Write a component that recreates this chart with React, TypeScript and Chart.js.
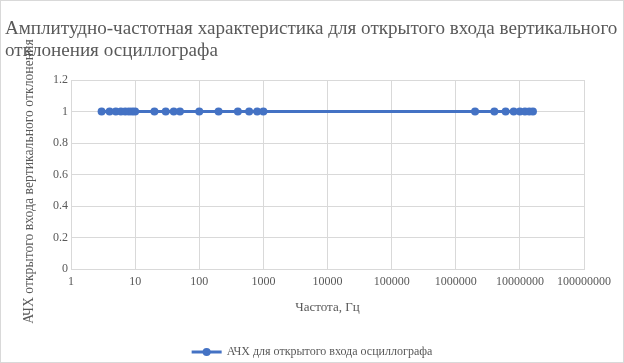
import React, { useEffect, useRef } from "react";
import { Chart, registerables } from "chart.js";

Chart.register(...registerables);

const chartTitle = [
  "Амплитудно-частотная характеристика для открытого входа вертикального",
  "отклонения осциллографа",
];
const seriesName = "АЧХ для открытого входа осциллографа";
const xAxisTitle = "Частота, Гц";
const yAxisTitle = "АЧХ открытого входа вертикального отклонения";

const frequencies = [
  3, 4, 5, 6, 7, 8, 9, 10, 20, 30, 40, 50, 100, 200, 400, 600, 800, 1000,
  2000000, 4000000, 6000000, 8000000, 10000000, 12000000, 14000000, 16000000,
];
const amplitudes = [
  1, 1, 1, 1, 1, 1, 1, 1, 1, 1, 1, 1, 1, 1, 1, 1, 1, 1, 1, 1, 1, 1, 1, 1, 1, 1,
];
const xTicks = [1, 10, 100, 1000, 10000, 100000, 1000000, 10000000, 100000000];
const yTicks = [0, 0.2, 0.4, 0.6, 0.8, 1, 1.2];

const BLUE = "#4472C4";
const TEXT = "#595959";
const GRID = "#d9d9d9";
const FONT = "'Liberation Serif', 'DejaVu Serif', serif";

const decor = {
  id: "decor",
  beforeDraw(chart: any) {
    const { ctx, width, height } = chart;
    ctx.save();
    ctx.fillStyle = "#ffffff";
    ctx.fillRect(0, 0, width, height);
    ctx.strokeStyle = GRID;
    ctx.lineWidth = 1;
    ctx.strokeRect(0.5, 0.5, width - 1, height - 1);
    ctx.restore();
  },
  afterDraw(chart: any) {
    const { ctx, chartArea } = chart;
    ctx.save();
    ctx.fillStyle = TEXT;
    // y axis title
    ctx.save();
    ctx.translate(29, (chartArea.top + chartArea.bottom) / 2 + 7);
    ctx.rotate(-Math.PI / 2);
    ctx.font = `13.7px ${FONT}`;
    ctx.textAlign = "center";
    ctx.textBaseline = "middle";
    ctx.fillText(yAxisTitle, 0, 0);
    ctx.restore();
    // chart title
    ctx.font = `19.1px ${FONT}`;
    ctx.textAlign = "left";
    ctx.textBaseline = "middle";
    chartTitle.forEach((line, i) => ctx.fillText(line, 5, 29 + i * 22));
    // legend
    ctx.font = `12px ${FONT}`;
    const textW = ctx.measureText(seriesName).width;
    const iconW = 30;
    const gap = 5;
    const total = iconW + gap + textW;
    const x0 = chart.width / 2 - total / 2;
    const y = 352;
    ctx.strokeStyle = BLUE;
    ctx.lineWidth = 3;
    ctx.beginPath();
    ctx.moveTo(x0, y);
    ctx.lineTo(x0 + iconW, y);
    ctx.stroke();
    ctx.fillStyle = BLUE;
    ctx.beginPath();
    ctx.arc(x0 + iconW / 2, y, 4, 0, Math.PI * 2);
    ctx.fill();
    ctx.fillStyle = TEXT;
    ctx.fillText(seriesName, x0 + iconW + gap, y);
    ctx.restore();
  },
};

export default function App() {
  const ref = useRef<HTMLCanvasElement | null>(null);

  useEffect(() => {
    document.body.style.margin = "0";
    const chart = new Chart(ref.current!, {
      type: "line",
      data: {
        datasets: [
          {
            label: seriesName,
            data: frequencies.map((f, i) => ({ x: f, y: amplitudes[i] })),
            borderColor: BLUE,
            backgroundColor: BLUE,
            borderWidth: 3,
            pointRadius: 4,
            pointHoverRadius: 4,
            pointStyle: "circle",
            pointBorderWidth: 0,
          },
        ],
      },
      options: {
        responsive: false,
        animation: false,
        layout: { padding: { top: 80, right: 40, left: 50, bottom: 48 } },
        plugins: {
          tooltip: { enabled: false },
          title: { display: false },
          legend: { display: false },
        },
        scales: {
          x: {
            type: "logarithmic",
            min: 1,
            max: 100000000,
            afterBuildTicks: (axis: any) => {
              axis.ticks = xTicks.map((v) => ({ value: v }));
            },
            ticks: {
              color: TEXT,
              font: { family: FONT, size: 12 },
              maxRotation: 0,
              autoSkip: false,
              padding: 6,
              callback: (v: any) => String(v),
            },
            grid: { color: GRID, drawTicks: false },
            border: { color: GRID },
            title: {
              display: true,
              text: xAxisTitle,
              color: TEXT,
              font: { family: FONT, size: 13 },
              padding: { top: 4, bottom: 0 },
            },
          },
          y: {
            type: "linear",
            min: 0,
            max: 1.2,
            afterBuildTicks: (axis: any) => {
              axis.ticks = yTicks.map((v) => ({ value: v }));
            },
            ticks: {
              color: TEXT,
              font: { family: FONT, size: 12 },
              padding: 3,
              callback: (v: any) => String(Number(Number(v).toFixed(1))),
            },
            grid: { color: GRID, drawTicks: false },
            border: { color: GRID },
          },
        },
      },
      plugins: [decor],
    });
    return () => chart.destroy();
  }, []);

  return <canvas ref={ref} width={624} height={363} />;
}
